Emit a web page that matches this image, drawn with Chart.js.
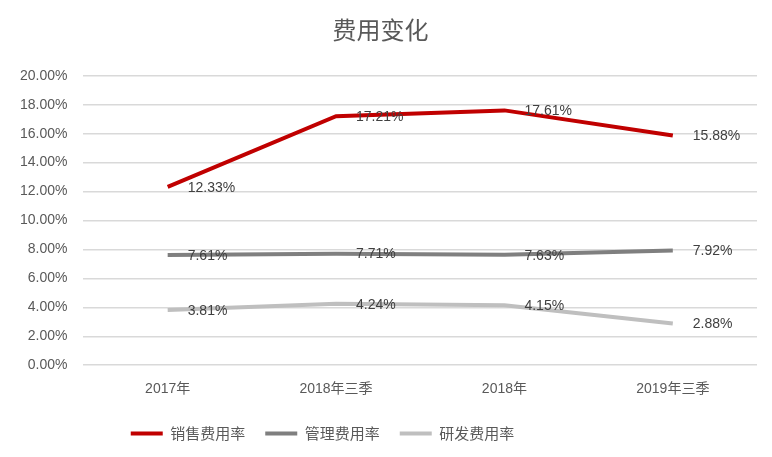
<!DOCTYPE html>
<html>
<head>
<meta charset="utf-8">
<script src="https://cdn.jsdelivr.net/npm/chart.js@4"></script>
<style>
  html, body { margin: 0; padding: 0; background: #fff; }
  #wrap { width: 772px; height: 457px; }
</style>
</head>
<body>
<div id="wrap"><canvas id="chart" width="772" height="457"></canvas></div>
<script>
const categories = ['2017年', '2018年三季', '2018年', '2019年三季'];
const salesRate = [12.33, 17.21, 17.61, 15.88];
const adminRate = [7.61, 7.71, 7.63, 7.92];
const rdRate = [3.81, 4.24, 4.15, 2.88];
const seriesNames = ['销售费用率', '管理费用率', '研发费用率'];
const seriesColors = ['#C00000', '#7F7F7F', '#BFBFBF'];

const font = "'Liberation Sans', 'Noto Sans CJK SC', sans-serif";

// labels drawn to the right of each point
const valueLabels = {
    id: 'valueLabels',
    afterDatasetsDraw(chart) {
        const ctx = chart.ctx;
        ctx.save();
        ctx.font = '14px ' + font;
        ctx.fillStyle = '#404040';
        ctx.textBaseline = 'middle';
        ctx.textAlign = 'left';
        chart.data.datasets.forEach((ds, i) => {
            const meta = chart.getDatasetMeta(i);
            meta.data.forEach((pt, j) => {
                ctx.fillText(ds.data[j].toFixed(2) + '%', pt.x + 20, pt.y + 1);
            });
        });
        ctx.restore();
    }
};

// legend sits a bit left of centre in the original
const legendShift = {
    id: 'legendShift',
    afterLayout(chart) {
        chart.legend.left -= 58;
        chart.legend.right -= 58;
    }
};

const ctx = document.getElementById('chart').getContext('2d');
new Chart(ctx, {
    type: 'line',
    data: {
        labels: categories,
        datasets: [salesRate, adminRate, rdRate].map((d, i) => ({
            label: seriesNames[i],
            data: d,
            borderColor: seriesColors[i],
            backgroundColor: seriesColors[i],
            borderWidth: 4,
            pointRadius: 0,
            tension: 0,
            fill: false,
        })),
    },
    options: {
        responsive: false,
        animation: false,
        layout: { padding: { left: 4, right: 15, top: 8, bottom: 6 } },
        plugins: {
            title: {
                display: true,
                text: '费用变化',
                color: '#595959',
                font: { family: "'Noto Sans CJK SC', serif", size: 24, weight: 'normal' },
                padding: { top: 7, bottom: 32 },
            },
            legend: {
                position: 'bottom',
                labels: {
                    color: '#595959',
                    font: { family: "'Noto Sans CJK SC', sans-serif", size: 15 },
                    boxWidth: 32,
                    boxHeight: 4,
                    padding: 20,
                    generateLabels(chart) {
                        return chart.data.datasets.map((ds, i) => ({
                            text: ds.label,
                            fillStyle: ds.borderColor,
                            strokeStyle: ds.borderColor,
                            lineWidth: 0,
                            fontColor: '#595959',
                            datasetIndex: i,
                            hidden: false,
                        }));
                    },
                },
            },
            tooltip: { enabled: false },
        },
        scales: {
            x: {
                offset: true,
                grid: { display: false },
                border: { display: false },
                ticks: {
                    color: '#595959',
                    font: { family: font, size: 14 },
                    padding: 8,
                },
            },
            y: {
                min: 0,
                max: 20,
                border: { display: false },
                grid: { color: '#D9D9D9', lineWidth: 1.5, drawTicks: false },
                ticks: {
                    stepSize: 2,
                    color: '#595959',
                    font: { family: font, size: 14 },
                    padding: 16,
                    callback: v => v.toFixed(2) + '%',
                },
            },
        },
    },
    plugins: [valueLabels, legendShift],
});
</script>
</body>
</html>
